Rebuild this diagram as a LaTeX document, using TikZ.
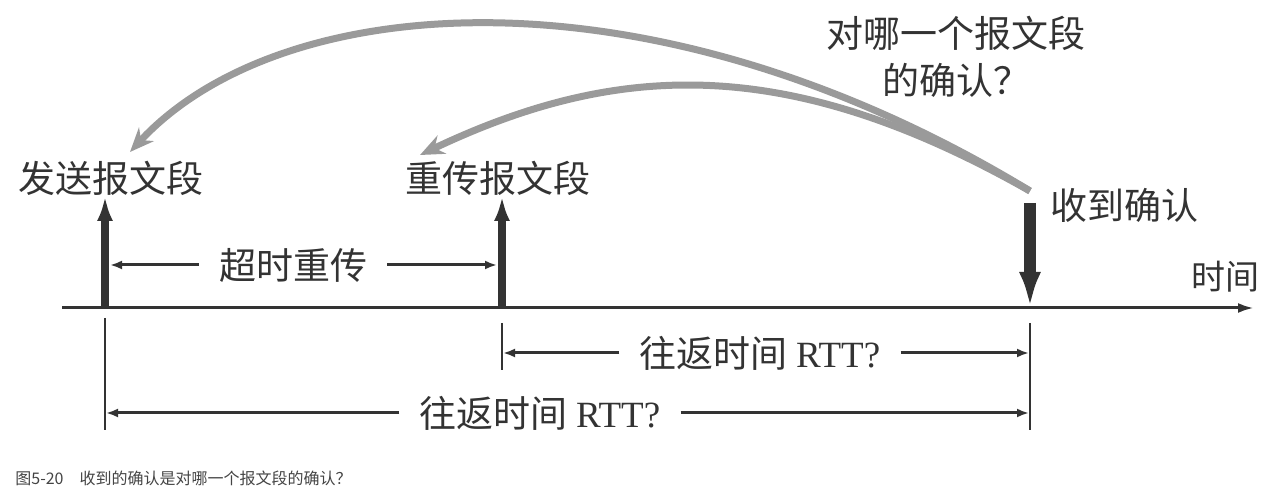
\documentclass[tikz,border=0pt]{standalone}
\usepackage{fontspec}
\setmainfont{Liberation Serif}
\newfontfamily\cjk{Noto Sans CJK SC}
\usepackage{tikz}
\usetikzlibrary{arrows.meta, positioning}
\usepackage{xcolor}
\definecolor{ink}{HTML}{333333}
\definecolor{curvegray}{HTML}{9A9A9A}
\definecolor{capgray}{HTML}{444444}

\tikzset{
	lbl/.style={inner sep=0pt, text=ink, font=\cjk\fontsize{18.5}{23.5}\selectfont},
	axisline/.style={draw=ink, line width=1.5pt, -{Latex[length=8pt,width=5pt]}},
	upbar/.style={draw=ink, line width=4pt, -{Latex[length=12.5pt,width=8pt]}},
	downbar/.style={draw=ink, line width=6pt, -{Latex[length=18pt,width=11pt]}},
	backarc/.style={draw=curvegray, line width=3.5pt, -{Stealth[length=12pt,width=10pt]}},
	dim/.style={draw=ink, line width=1.5pt, shorten <=10pt, -{Latex[length=6pt,width=4.5pt]}},
	tickline/.style={draw=ink, line width=1pt}
}

\begin{document}
\begin{tikzpicture}[x=0.5pt,y=-0.5pt]
		\useasboundingbox (0,0) rectangle (1286,496);
		
		% time axis
		\coordinate (a0) at (62,308);
		\coordinate (a1) at (1254,308);
		\draw[axisline] (a0) -- (a1);
		\node[lbl, font=\cjk\fontsize{17}{20}\selectfont] (time) at (1225,277) {时间};
		
		% events
		\coordinate (t1) at (105,308);
		\coordinate (t2) at (502,308);
		\coordinate (t3) at (1030,308);
		\coordinate (t1up) at (105,196);
		\coordinate (t2up) at (502,196);
		\coordinate (t3top) at (1030,203);
		\draw[upbar] (t1) -- (t1up);
		\draw[upbar] (t2) -- (t2up);
		\draw[downbar] (t3top) -- (t3);
		
		\node[lbl] (send) at (111,178) {发送报文段};
		\node[lbl] (resend) at (498,178) {重传报文段};
		\node[lbl] (ack) at (1124,205) {收到确认};
		\node[lbl, align=center] (which) at (956,57) {对哪一个报文段\\的确认？};
		
		% which segment is acknowledged
		\coordinate (src) at (1030,191);
		\coordinate (sendin) at (130,152);
		\coordinate (resendin) at (420,155);
		\draw[backarc] (src) .. controls (650,-40) and (280,-10) .. (sendin);
		\draw[backarc] (src) .. controls (790,55) and (620,60) .. (resendin);
		
		% timeout
		\node[lbl] (rto) at (293,265) {超时重传};
		\draw[dim] (rto.west) -- ([xshift=2.5pt]t1 |- rto);
		\draw[dim] (rto.east) -- ([xshift=-2.5pt]t2 |- rto);
		
		% round trip times
		\coordinate (k1a) at (105,318);
		\coordinate (k1b) at (105,430);
		\coordinate (k2a) at (502,323);
		\coordinate (k2b) at (502,370);
		\coordinate (k3a) at (1030,323);
		\coordinate (k3b) at (1030,430);
		\draw[tickline] (k1a) -- (k1b);
		\draw[tickline] (k2a) -- (k2b);
		\draw[tickline] (k3a) -- (k3b);
		
		\node[lbl] (rtt1) at (760,353) {往返时间 \rmfamily RTT?};
		\draw[dim] (rtt1.west) -- ([xshift=0.5pt]k2a |- rtt1);
		\draw[dim] (rtt1.east) -- ([xshift=-0.5pt]k3a |- rtt1);
		\node[lbl] (rtt2) at (540,413) {往返时间 \rmfamily RTT?};
		\draw[dim] (rtt2.west) -- ([xshift=0.5pt]k1a |- rtt2);
		\draw[dim] (rtt2.east) -- ([xshift=-0.5pt]k3a |- rtt2);
		
		% caption
		\node[anchor=west, inner sep=0pt, text=capgray, font=\cjk\fontsize{8}{10}\selectfont] (cap) at (15,478) {图5-20\quad 收到的确认是对哪一个报文段的确认？};
	\end{tikzpicture}
\end{document}
